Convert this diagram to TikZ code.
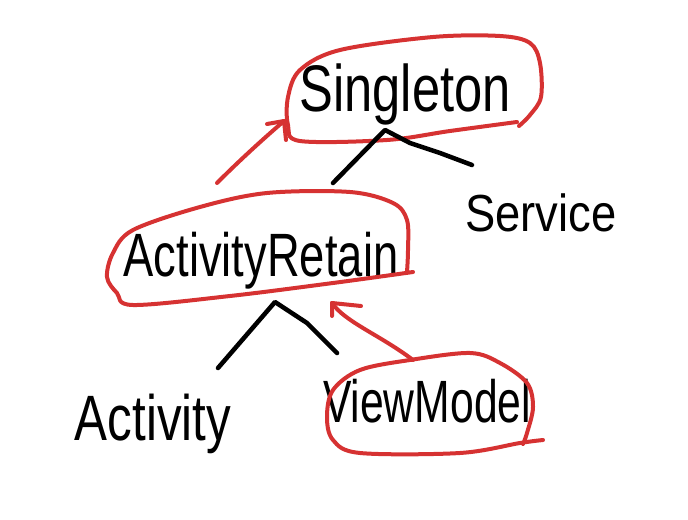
\documentclass[tikz,border=0pt]{standalone}
\usepackage{fontspec}
\setmainfont{Liberation Sans}
\definecolor{penred}{RGB}{214,50,50}
\begin{document}
\begin{tikzpicture}[x=0.75pt,y=-0.75pt,
  lbl/.style={anchor=base,inner sep=0pt,text=black},
  ink/.style={line width=3.4pt,line cap=round,line join=round,black},
  redink/.style={line width=3pt,line cap=round,line join=round,penred}]
\useasboundingbox (0,0) rectangle (688,520);
% labels
\node[lbl,font=\fontsize{38}{44}\selectfont] (singleton) at (405,112) {\scalebox{1}[1.3]{Singleton}};
\node[lbl,font=\fontsize{34}{38}\selectfont] (service) at (541,232) {\scalebox{1}[1.15]{Service}};
\node[lbl,font=\fontsize{34}{38}\selectfont] (retain) at (261,276) {\scalebox{1}[1.35]{ActivityRetain}};
\node[lbl,font=\fontsize{37}{42}\selectfont] (activity) at (153,440) {\scalebox{1}[1.3]{Activity}};
\node[lbl,font=\fontsize{32}{36}\selectfont] (viewmodel) at (427,422) {\scalebox{1}[1.4]{ViewModel}};
% red loops
\draw[redink] plot[smooth,tension=0.55] coordinates {(517,122) (450,131) (387,140) (300,141) (288,125) (288,97) (300,70) (340,50) (433,37) (500,36) (530,43) (540,63) (541,97) (530,115) (519,126)};
\draw[redink] plot[smooth,tension=0.55] coordinates {(413,272) (333,283) (230,296) (133,305) (117,293) (107,277) (113,253) (133,230) (200,207) (267,193) (350,192) (393,203) (407,220) (408,250) (407,272)};
\draw[redink] plot[smooth,tension=0.55] coordinates {(543,440) (520,443) (460,453) (360,453) (333,440) (327,417) (333,390) (360,370) (410,360) (470,353) (500,363) (527,383) (533,407) (527,433) (523,444)};
% red arrows
\coordinate (a1s) at (217,183);
\coordinate (a1t) at (284,121);
\coordinate (a1b1) at (267,124);
\coordinate (a1b2) at (286,140);
\draw[redink] (a1s) .. controls (240,160) and (262,140) .. (a1t);
\draw[redink] (a1b1) -- (a1t) -- (a1b2);
\coordinate (a2s) at (413,360);
\coordinate (a2t) at (332,303);
\coordinate (a2b1) at (361,306);
\coordinate (a2b2) at (332,316);
\draw[redink] (a2s) .. controls (380,335) and (345,322) .. (a2t);
\draw[redink] (a2b1) -- (a2t) -- (a2b2);
% black tree lines
\coordinate (p1) at (385,130);
\coordinate (l1) at (333,183);
\coordinate (r1) at (472,165);
\draw[ink] (l1) -- (p1) -- (410,143) -- (440,153) -- (r1);
\coordinate (p2) at (275,302);
\coordinate (l2) at (218,368);
\coordinate (r2) at (337,353);
\draw[ink] (l2) -- (p2) -- (307,323) -- (r2);
\end{tikzpicture}
\end{document}
